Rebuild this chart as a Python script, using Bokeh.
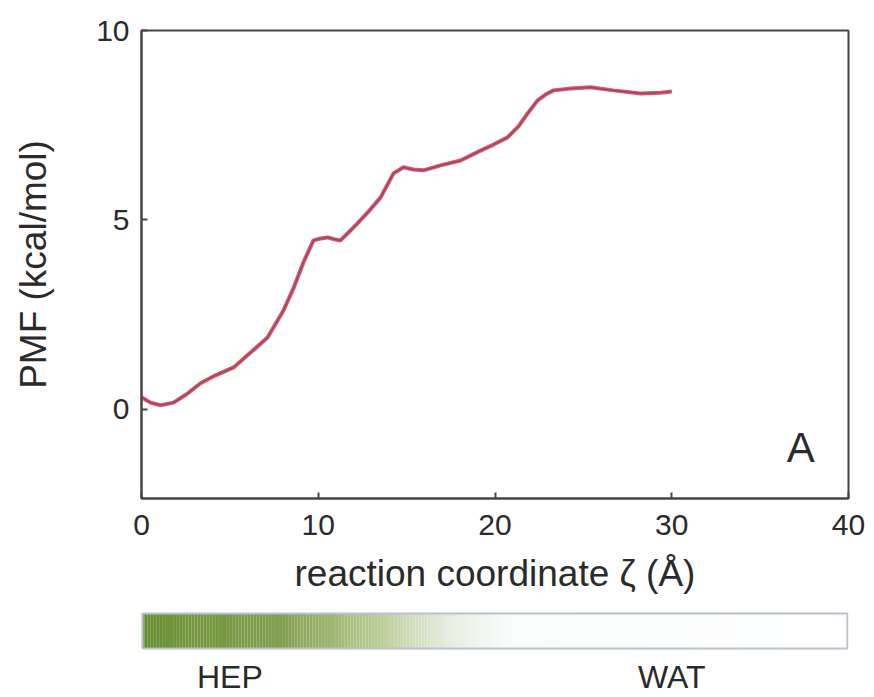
import numpy as np
from bokeh.plotting import figure
from bokeh.layouts import column
from bokeh.models import FixedTicker, Range1d
from bokeh.core.properties import value
from bokeh.embed import file_html
from bokeh.resources import INLINE

# ---- data ----
zeta = [0.0, 0.51, 1.07, 1.81, 2.55, 3.34, 4.19, 5.21, 6.17, 7.13, 8.03, 8.60, 9.16,
        9.73, 10.13, 10.52, 10.92, 11.26, 11.71, 12.22, 12.84, 13.52, 14.26, 14.82,
        15.39, 15.95, 16.92, 18.05, 19.18, 19.92, 20.71, 21.33, 21.84, 22.40, 22.86,
        23.31, 24.27, 25.40, 26.70, 28.23, 29.36, 30.0]
pmf = [0.32, 0.18, 0.11, 0.18, 0.40, 0.69, 0.90, 1.11, 1.50, 1.90, 2.61, 3.20, 3.88,
       4.46, 4.51, 4.54, 4.49, 4.46, 4.67, 4.91, 5.22, 5.59, 6.23, 6.39,
       6.33, 6.31, 6.44, 6.57, 6.83, 6.99, 7.18, 7.47, 7.81, 8.15, 8.31,
       8.42, 8.47, 8.50, 8.42, 8.34, 8.36, 8.39]
x_ticks = [0, 10, 20, 30, 40]
y_ticks = [0, 5, 10]
panel_label = "A"
env_labels = ["HEP", "WAT"]
env_label_pos = [5.0, 30.0]
# colour bar stops (fraction along bar, RGB)
grad_pos = [0.0, 0.04, 0.2, 0.32, 0.43, 0.52, 1.0]
grad_rgb = [(100, 140, 45), (112, 148, 58), (130, 160, 80), (180, 200, 140),
            (230, 236, 222), (250, 252, 252), (255, 255, 255)]

FONT = "Liberation Sans"
INK = "#2a2a2a"

p = figure(width=874, height=606, output_backend="svg", toolbar_location=None,
           x_range=Range1d(0, 40), y_range=Range1d(-2.35, 10),
           min_border_left=141, min_border_right=26, min_border_top=30,
           min_border_bottom=108)
p.grid.visible = False
p.outline_line_color = "#444444"
p.outline_line_width = 2
p.background_fill_color = "white"

for ax in (p.xaxis[0], p.yaxis[0]):
    ax.axis_line_color = "#444444"
    ax.axis_line_width = 2
    ax.major_tick_in = 6
    ax.major_tick_out = 0
    ax.major_tick_line_color = "#444444"
    ax.major_tick_line_width = 2
    ax.minor_tick_line_color = None
    ax.major_label_text_font = FONT
    ax.major_label_text_font_size = "30px"
    ax.major_label_text_color = INK
    ax.axis_label_text_font = FONT
    ax.axis_label_text_font_size = "37px"
    ax.axis_label_text_font_style = "normal"
    ax.axis_label_text_color = INK

p.xaxis[0].ticker = FixedTicker(ticks=x_ticks)
p.yaxis[0].ticker = FixedTicker(ticks=y_ticks)
p.xaxis[0].axis_label = "reaction coordinate \u03b6 (\u00c5)"
p.yaxis[0].axis_label = "PMF (kcal/mol)"
p.xaxis[0].major_label_standoff = 16
p.xaxis[0].axis_label_standoff = 15
p.yaxis[0].major_label_standoff = 12
p.yaxis[0].axis_label_standoff = 39

p.line(zeta, pmf, line_color="#d9435e", line_width=4, line_alpha=0.9)
p.line(zeta, pmf, line_color="#6e4a52", line_width=1.2, line_alpha=0.8)

p.text(x=[37.3], y=[-1.0], text=[panel_label], text_font=value(FONT),
       text_font_size="42px", text_color=INK, text_align="center",
       text_baseline="middle")

# ---- colour bar ----
q = figure(width=874, height=91, output_backend="svg", toolbar_location=None,
           x_range=Range1d(0, 40), y_range=Range1d(0, 91),
           min_border_left=141, min_border_right=26, min_border_top=0,
           min_border_bottom=0, x_axis_type=None, y_axis_type=None)
q.grid.visible = False
q.outline_line_color = None

n = 240
edges = np.linspace(0, 40.0, n + 1)
mids = (edges[:-1] + edges[1:]) / 2 / 40.0
gp = np.array(grad_pos)
gc = np.array(grad_rgb, dtype=float)
cols = []
for f in mids:
    r = np.interp(f, gp, gc[:, 0]); g = np.interp(f, gp, gc[:, 1]); b = np.interp(f, gp, gc[:, 2])
    cols.append("#%02x%02x%02x" % (int(r), int(g), int(b)))
q.quad(left=edges[:-1], right=edges[1:], bottom=49, top=84, fill_color=cols,
       line_color=None)
q.quad(left=[0.06], right=[39.94], bottom=[49], top=[84], fill_color=None,
       line_color="#b9c2cc", line_width=2)
q.text(x=env_label_pos, y=[21, 21], text=env_labels, text_font=value(FONT),
       text_font_size="32px", text_color=INK, text_align="center",
       text_baseline="middle")

layout = column(p, q, spacing=0)
open("out.html", "w").write(file_html(layout, INLINE))
